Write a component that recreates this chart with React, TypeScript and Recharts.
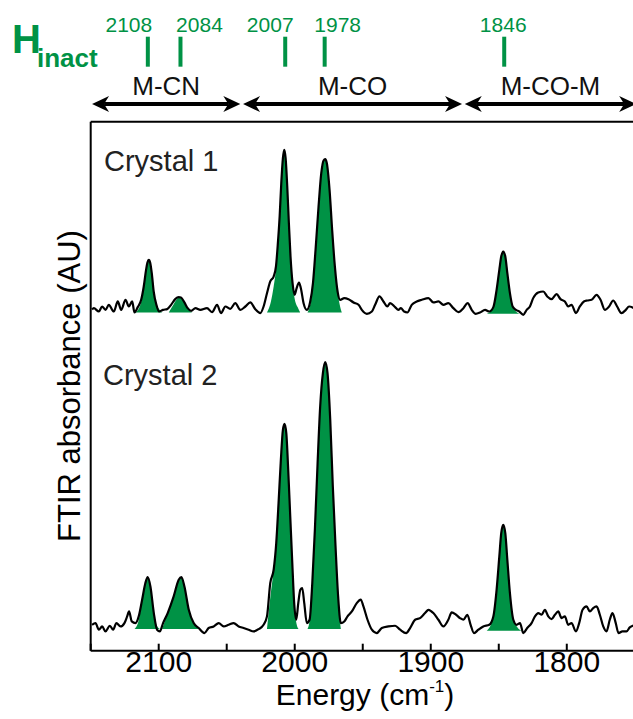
import React from "react";
import { ComposedChart, Line, Area, XAxis, YAxis, ReferenceLine, Customized } from "recharts";

// ---- data (energy in cm-1, absorbance in arbitrary units, offset traces) ----
const energyTicks = [2150, 2100, 2050, 2000, 1950, 1900, 1850, 1800, 1750];
const energyLabels = [2100, 2000, 1900, 1800];
const absTicks = [1, 2, 3, 4, 5];

const bandCenters = [2108, 2084, 2007, 1978, 1846];
const regionNames = ["M-CN", "M-CO", "M-CO-M"];
const regionSpans = [[2149, 2040], [2038, 1877], [1875, 1749]];

const crystal1: [number, number][] = [
  [2149, 3.87], [2147.7, 3.885], [2144.0, 3.847], [2141.6, 3.904], [2139.1, 3.866], [2136.7, 3.923],
  [2133.0, 3.847], [2130.1, 3.961], [2127.6, 3.866], [2124.4, 3.98], [2122.0, 3.904], [2119.5, 3.961],
  [2117.8, 3.836], [2115.4, 3.897], [2112.9, 3.98], [2111.0, 4.131], [2109.3, 4.32], [2108.3, 4.403],
  [2107.3, 4.433], [2106.3, 4.403], [2105.1, 4.282], [2103.7, 4.074], [2101.7, 3.923], [2099.7, 3.847],
  [2096.8, 3.866], [2093.8, 3.874], [2090.9, 3.923], [2087.7, 3.991], [2085.3, 4.01], [2083.6, 4.006],
  [2081.1, 3.95], [2078.7, 3.885], [2076.2, 3.855], [2073.0, 3.885], [2069.4, 3.866], [2064.5, 3.885],
  [2060.8, 3.84], [2057.1, 3.923], [2054.2, 3.829], [2051.0, 3.904], [2047.4, 3.878], [2043.7, 3.942],
  [2040.0, 3.866], [2036.3, 3.904], [2032.7, 3.95], [2029.0, 3.874], [2025.3, 3.829], [2022.9, 3.904],
  [2020.4, 4.055], [2018.0, 4.188], [2015.5, 4.244], [2013.8, 4.358], [2012.4, 4.622], [2011.1, 4.925],
  [2009.9, 5.303], [2008.7, 5.586], [2007.7, 5.681], [2006.7, 5.586], [2005.5, 5.265], [2004.3, 4.849],
  [2003.1, 4.471], [2001.6, 4.169], [2000.1, 4.036], [1998.6, 4.112], [1996.9, 4.176], [1995.5, 4.112],
  [1993.5, 3.942], [1991.1, 3.866], [1988.6, 3.961], [1986.6, 4.169], [1984.7, 4.547], [1982.5, 5.038],
  [1980.5, 5.416], [1978.8, 5.56], [1977.6, 5.575], [1976.4, 5.529], [1974.4, 5.227], [1972.5, 4.774],
  [1970.5, 4.358], [1968.5, 4.074], [1966.6, 3.98], [1963.6, 3.999], [1960.5, 3.987], [1956.8, 3.95],
  [1953.1, 3.923], [1950.7, 3.866], [1947.0, 3.821], [1943.3, 3.847], [1940.9, 3.923], [1937.7, 4.018],
  [1934.8, 3.961], [1931.9, 3.904], [1929.9, 3.942], [1926.2, 3.897], [1923.8, 3.866], [1922.0, 3.885],
  [1919.6, 3.847], [1917.2, 3.836], [1914.0, 3.923], [1910.3, 3.961], [1906.6, 3.98], [1901.7, 3.999],
  [1898.1, 3.95], [1894.4, 3.961], [1890.7, 3.923], [1887.1, 3.942], [1883.4, 3.885], [1879.7, 3.84],
  [1876.0, 3.885], [1872.9, 3.942], [1869.9, 3.866], [1867.0, 3.821], [1863.8, 3.836], [1860.1, 3.866],
  [1857.0, 3.847], [1854.0, 3.897], [1851.6, 4.093], [1849.6, 4.32], [1848.2, 4.471], [1846.7, 4.528],
  [1845.2, 4.471], [1843.7, 4.282], [1841.8, 4.055], [1839.8, 3.904], [1837.4, 3.866], [1834.9, 3.847],
  [1832.0, 3.81], [1829.5, 3.866], [1827.1, 3.904], [1824.7, 3.999], [1821.0, 4.063], [1817.3, 4.074],
  [1814.4, 4.018], [1811.2, 3.987], [1807.5, 4.044], [1804.6, 3.987], [1801.4, 3.961], [1799.0, 3.904],
  [1796.5, 3.923], [1793.3, 3.829], [1790.4, 3.904], [1787.4, 3.961], [1785.0, 3.972], [1781.8, 3.98],
  [1778.1, 4.036], [1775.2, 3.98], [1772.0, 3.866], [1768.9, 3.904], [1765.9, 3.972], [1763.0, 3.904],
  [1759.8, 3.829], [1756.6, 3.866], [1754.2, 3.904], [1750, 3.88],
];

const crystal2: [number, number][] = [
  [2149, 0.294], [2146.5, 0.313], [2144.0, 0.238], [2141.6, 0.275], [2139.1, 0.219], [2135.9, 0.283],
  [2133.5, 0.238], [2131.1, 0.313], [2128.1, 0.275], [2125.2, 0.313], [2123.2, 0.389], [2121.8, 0.445],
  [2119.8, 0.332], [2117.1, 0.313], [2114.7, 0.389], [2112.2, 0.578], [2109.8, 0.767], [2108.1, 0.835],
  [2106.1, 0.729], [2103.6, 0.427], [2101.2, 0.238], [2099.2, 0.219], [2096.8, 0.313], [2093.4, 0.427],
  [2089.0, 0.616], [2085.3, 0.805], [2083.3, 0.835], [2081.1, 0.729], [2077.9, 0.464], [2074.3, 0.313],
  [2070.6, 0.257], [2066.4, 0.2], [2063.3, 0.257], [2059.6, 0.275], [2055.9, 0.313], [2052.2, 0.275],
  [2048.6, 0.294], [2044.9, 0.313], [2041.2, 0.275], [2037.6, 0.257], [2033.9, 0.238], [2030.2, 0.219],
  [2026.5, 0.245], [2022.9, 0.294], [2020.4, 0.389], [2018.0, 0.767], [2015.5, 0.918], [2013.6, 1.22],
  [2011.9, 1.674], [2010.2, 2.165], [2008.7, 2.505], [2007.5, 2.573], [2006.2, 2.467], [2004.8, 2.052],
  [2003.3, 1.522], [2001.8, 0.994], [2000.4, 0.54], [1998.9, 0.351], [1997.4, 0.54], [1995.9, 0.691],
  [1994.5, 0.71], [1993.0, 0.54], [1991.1, 0.313], [1989.1, 0.351], [1987.1, 0.767], [1985.2, 1.371],
  [1983.2, 2.127], [1981.3, 2.77], [1979.3, 3.148], [1977.6, 3.272], [1975.9, 3.148], [1973.9, 2.619],
  [1972.0, 1.863], [1970.0, 1.182], [1968.1, 0.616], [1966.1, 0.313], [1963.6, 0.332], [1961.2, 0.389],
  [1958.0, 0.445], [1954.4, 0.54], [1951.5, 0.58], [1949.5, 0.502], [1946.5, 0.351], [1943.3, 0.238],
  [1939.7, 0.2], [1936.0, 0.257], [1931.1, 0.275], [1926.2, 0.283], [1922.5, 0.238], [1918.1, 0.2],
  [1915.2, 0.257], [1911.5, 0.351], [1907.9, 0.37], [1904.2, 0.427], [1901.7, 0.464], [1898.1, 0.427],
  [1894.4, 0.351], [1890.7, 0.275], [1887.1, 0.351], [1884.6, 0.434], [1881.4, 0.408], [1878.5, 0.37],
  [1876.0, 0.351], [1873.1, 0.408], [1870.7, 0.294], [1868.2, 0.2], [1865.0, 0.238], [1861.4, 0.275],
  [1857.0, 0.294], [1854.0, 0.389], [1851.6, 0.691], [1849.6, 1.069], [1848.2, 1.334], [1846.7, 1.428],
  [1845.2, 1.334], [1843.7, 1.031], [1841.8, 0.653], [1839.3, 0.351], [1836.9, 0.294], [1834.4, 0.313],
  [1832.0, 0.2], [1829.1, 0.257], [1825.9, 0.313], [1823.4, 0.389], [1821.0, 0.427], [1818.5, 0.408],
  [1816.1, 0.464], [1813.6, 0.389], [1811.2, 0.359], [1808.7, 0.408], [1806.3, 0.445], [1803.8, 0.37],
  [1801.4, 0.389], [1799.0, 0.294], [1796.5, 0.313], [1793.3, 0.219], [1790.9, 0.313], [1788.4, 0.464],
  [1785.5, 0.502], [1783.0, 0.445], [1780.6, 0.483], [1778.1, 0.502], [1775.7, 0.408], [1773.2, 0.275],
  [1770.8, 0.219], [1768.4, 0.351], [1766.4, 0.427], [1764.0, 0.313], [1762.0, 0.2], [1759.1, 0.219],
  [1756.1, 0.219], [1753.7, 0.264], [1750, 0.29],
];

// fitted band components (green fills): [energy, top], base is the first/last value
const c1Band2108: [number, number][] = [[2117, 3.836], [2113, 3.95], [2111, 4.13], [2109.3, 4.32], [2108.3, 4.4], [2107.3, 4.433], [2106.3, 4.4], [2105.1, 4.28], [2103.7, 4.07], [2101.7, 3.93], [2099.5, 3.87], [2097.5, 3.836]];
const c1Band2084: [number, number][] = [[2092.6, 3.836], [2089, 3.93], [2087, 3.98], [2085.3, 4.01], [2083.6, 4.006], [2081.1, 3.95], [2078.7, 3.88], [2075.5, 3.836]];
const c1Band2007: [number, number][] = [[2020.4, 3.836], [2017.5, 3.96], [2015.5, 4.13], [2013.8, 4.33], [2012.4, 4.62], [2011.1, 4.925], [2009.9, 5.303], [2008.7, 5.586], [2007.7, 5.681], [2006.7, 5.586], [2005.5, 5.265], [2004.3, 4.849], [2003.1, 4.471], [2001.6, 4.169], [2000, 3.99], [1998, 3.9], [1996, 3.836]];
const c1Band1978: [number, number][] = [[1990.6, 3.836], [1988.3, 3.95], [1986.6, 4.15], [1984.7, 4.547], [1982.5, 5.038], [1980.5, 5.416], [1978.8, 5.56], [1977.6, 5.575], [1976.4, 5.529], [1974.4, 5.227], [1972.5, 4.774], [1970.5, 4.358], [1968.5, 4.074], [1967, 3.93], [1965.4, 3.836]];
const c1Band1846: [number, number][] = [[1858.9, 3.821], [1855, 3.87], [1853, 3.95], [1851.6, 4.093], [1849.6, 4.32], [1848.2, 4.471], [1846.7, 4.528], [1845.2, 4.471], [1843.7, 4.282], [1841.8, 4.055], [1840, 3.92], [1837.5, 3.85], [1834.4, 3.821]];

const c2Band2108: [number, number][] = [[2117.8, 0.245], [2114.5, 0.36], [2112.2, 0.578], [2109.8, 0.767], [2108.1, 0.835], [2106.1, 0.729], [2103.6, 0.45], [2101.5, 0.29], [2098.8, 0.245]];
const c2Band2084: [number, number][] = [[2097.5, 0.245], [2093.4, 0.427], [2089, 0.616], [2085.3, 0.805], [2083.3, 0.835], [2081.1, 0.729], [2077.9, 0.464], [2074, 0.3], [2069.4, 0.245]];
const c2Band2007: [number, number][] = [[2020.4, 0.245], [2018, 0.6], [2015.5, 0.918], [2013.6, 1.22], [2011.9, 1.674], [2010.2, 2.165], [2008.7, 2.505], [2007.5, 2.573], [2006.2, 2.467], [2004.8, 2.052], [2003.3, 1.522], [2001.8, 0.994], [2000.4, 0.54], [1999, 0.33], [1997.2, 0.245]];
const c2Band1978: [number, number][] = [[1990.6, 0.245], [1989, 0.351], [1987.1, 0.767], [1985.2, 1.371], [1983.2, 2.127], [1981.3, 2.77], [1979.3, 3.148], [1977.6, 3.272], [1975.9, 3.148], [1973.9, 2.619], [1972, 1.863], [1970, 1.182], [1968.1, 0.616], [1966.1, 0.245]];
const c2Band1846: [number, number][] = [[1858.9, 0.225], [1855, 0.33], [1851.6, 0.691], [1849.6, 1.069], [1848.2, 1.334], [1846.7, 1.428], [1845.2, 1.334], [1843.7, 1.031], [1841.8, 0.653], [1839.5, 0.36], [1836.5, 0.27], [1833.2, 0.225]];

const bands = [c1Band2108, c1Band2084, c1Band2007, c1Band1978, c1Band1846, c2Band2108, c2Band2084, c2Band2007, c2Band1978, c2Band1846];

// ---- layout ----
const GREEN = "#009245";
const FONT = '"Liberation Sans", Arial, sans-serif';
const labelShift = [-19, 19, -15, 13, -1];
const markTop = 6.964;
const markBottom = 6.624;
const arrowLevel = 6.2;

const lineRows = (pts: [number, number][]) => pts.map(([e, a]) => ({ e, a }));
const bandRows = (pts: [number, number][]) => {
  const base = pts[0][1];
  return pts.map(([e, a]) => ({ e, r: [base, a] }));
};

const DoubleArrow = (props: any) => {
  const { x1, x2, y1 } = props;
  const l = Math.min(x1, x2);
  const r = Math.max(x1, x2);
  const y = y1;
  const h = 17, w = 8, n = 12;
  return (
    <g>
      <line x1={l + n} x2={r - n} y1={y} y2={y} stroke="#000" strokeWidth={4} />
      <polygon points={`${l},${y} ${l + h},${y - w} ${l + n},${y} ${l + h},${y + w}`} fill="#000" />
      <polygon points={`${r},${y} ${r - h},${y - w} ${r - n},${y} ${r - h},${y + w}`} fill="#000" />
    </g>
  );
};

const Annotations = () => (
  <g fontFamily={FONT}>
    <text x={12} y={53} fontSize={40} fontWeight="bold" fill={GREEN}>H</text>
    <text x={37} y={67} fontSize={26} fontWeight="bold" fill={GREEN}>inact</text>
    <text x={104} y={171} fontSize={29} fill="#222">Crystal 1</text>
    <text x={103} y={385} fontSize={29} fill="#222">Crystal 2</text>
    <text x={365} y={705} fontSize={30} fill="#000" textAnchor="middle">
      Energy (cm<tspan fontSize={17} dy={-13}>-1</tspan><tspan dy={13}>)</tspan>
    </text>
    <text x={80} y={386} fontSize={31} fill="#000" textAnchor="middle" transform="rotate(-90 80 386)">
      FTIR absorbance (AU)
    </text>
  </g>
);

const axisLine = { stroke: "#000", strokeWidth: 2 };

export default function App() {
  return (
    <div style={{ position: "absolute", left: 0, top: 0, width: 633, height: 719, overflow: "hidden", background: "#fff" }}>
      <ComposedChart width={640} height={719} margin={{ top: 120.7, right: 4.2, bottom: 67.3, left: 89.7 }}>
        <XAxis
          xAxisId="b" dataKey="e" type="number" domain={[1750, 2150]} reversed allowDataOverflow
          ticks={energyTicks} interval={0} height={1} tickSize={-7} tickMargin={7}
          tickFormatter={(v: number) => (energyLabels.includes(v) ? String(v) : "")}
          tick={{ fontSize: 30, fill: "#000", fontFamily: FONT }}
          axisLine={axisLine} tickLine={axisLine}
        />
        <XAxis
          xAxisId="t" orientation="top" dataKey="e" type="number" domain={[1750, 2150]} reversed allowDataOverflow
          ticks={energyTicks} interval={0} height={1} tickSize={-7} tick={false}
          axisLine={axisLine} tickLine={axisLine}
        />
        <YAxis
          yAxisId="l" type="number" domain={[0, 6]} allowDataOverflow ticks={absTicks} interval={0}
          width={1} tickSize={-7} tick={false} axisLine={axisLine} tickLine={axisLine}
        />
        <YAxis
          yAxisId="r" orientation="right" type="number" domain={[0, 6]} allowDataOverflow ticks={absTicks} interval={0}
          width={1} tickSize={-7} tick={false} axisLine={axisLine} tickLine={axisLine}
        />

        {bands.map((b, i) => (
          <Area
            key={`band${i}`} xAxisId="b" yAxisId="l" data={bandRows(b)} dataKey="r" type="monotone"
            fill={GREEN} fillOpacity={1} stroke="none" isAnimationActive={false}
          />
        ))}
        <Line xAxisId="b" yAxisId="l" data={lineRows(crystal1)} dataKey="a" type="monotone" stroke="#000" strokeWidth={2.2} dot={false} isAnimationActive={false} />
        <Line xAxisId="b" yAxisId="l" data={lineRows(crystal2)} dataKey="a" type="monotone" stroke="#000" strokeWidth={2.2} dot={false} isAnimationActive={false} />

        {bandCenters.map((c, i) => (
          <ReferenceLine
            key={`mark${c}`} xAxisId="b" yAxisId="l" ifOverflow="visible"
            segment={[{ x: c, y: markTop }, { x: c, y: markBottom }]}
            stroke={GREEN} strokeWidth={4}
            label={{ value: String(c), position: "top", offset: 5, dx: labelShift[i], fill: GREEN, fontSize: 21, fontFamily: FONT }}
          />
        ))}
        {regionNames.map((name, i) => (
          <ReferenceLine
            key={name} xAxisId="b" yAxisId="l" ifOverflow="visible"
            segment={[{ x: regionSpans[i][0], y: arrowLevel }, { x: regionSpans[i][1], y: arrowLevel }]}
            shape={DoubleArrow}
            label={{ value: name, position: "top", offset: 9, fill: "#111", fontSize: 26, fontFamily: FONT }}
          />
        ))}
        <Customized component={<Annotations />} />
      </ComposedChart>
    </div>
  );
}
